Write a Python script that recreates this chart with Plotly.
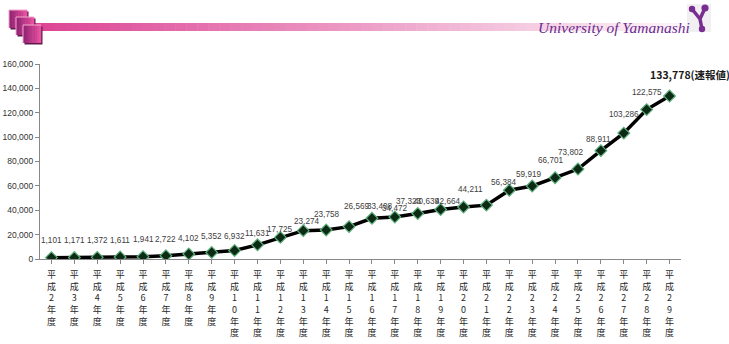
import plotly.graph_objects as go

# Fiscal years (Heisei era) and yearly counts
years = list(range(2, 30))
counts = [1101, 1171, 1372, 1611, 1941, 2722, 4102, 5352, 6932, 11631,
          17725, 23274, 23758, 26569, 33408, 34472, 37323, 40639, 42664, 44211,
          56384, 59919, 66701, 73802, 88911, 103286, 122575, 133778]
last_suffix = "(速報値)"
y_ticks = list(range(0, 160001, 20000))

# pixel offsets (dx, dy) of each value label from its marker
label_offsets = [(0, -17), (0, -17), (0, -17), (0, -17), (0, -17), (0, -16), (0, -16),
                 (0, -16), (0, -14), (0, -11), (-1, -8), (3, -9), (0, -16), (7, -20),
                 (8, -12), (0, -8), (-9, -12), (-14, -8), (-16, -6), (-16, -16),
                 (-6, -8), (-4, -11), (-5, -17), (-7, -17), (-2, -11), (0, -19),
                 (0, -17), (-22, -21)]

W, H = 729, 344
ML, MR, MT, MB = 40, 48, 64, 85
PW, PH = W - ML - MR, H - MT - MB


def px(x):
    return (x - ML) / PW


def py(y):
    return (H - MB - y) / PH


def tick_label(n):
    chars = ["平", "成"] + list(str(n)) + ["年", "度"]
    return "<br>".join(chars)


xs = list(range(len(years)))
fig = go.Figure()
fig.add_trace(go.Scatter(
    x=xs, y=counts, mode="lines+markers",
    line=dict(color="#000000", width=3.5),
    marker=dict(symbol="diamond", size=9, color="#0c2a14",
                line=dict(color="#5fae7c", width=1.2)),
    hoverinfo="skip", showlegend=False,
))

annotations = []
for i, (v, (dx, dy)) in enumerate(zip(counts, label_offsets)):
    last = i == len(counts) - 1
    txt = f"{v:,}" + (last_suffix if last else "")
    annotations.append(dict(
        x=i, y=v, xref="x", yref="y", text=("<b>%s</b>" % txt) if last else txt,
        showarrow=False, xshift=dx, yshift=-dy,
        xanchor="left" if last else "center", yanchor="middle",
        font=dict(size=10.5 if last else 8.2, color="#1a1a1a" if last else "#404040",
                  family="Noto Sans CJK JP" if last else "Liberation Sans"),
    ))

# header title
annotations.append(dict(
    x=px(692), y=py(27), xref="paper", yref="paper", showarrow=False,
    text="<i>University of Yamanashi</i>", xanchor="right", yanchor="middle",
    font=dict(size=15.5, color="#6b2c91", family="Liberation Serif"),
))

shapes = []
# header gradient bar
x0, x1, n = 33, 690, 60
c0, c1 = (220, 68, 148), (253, 246, 250)
for k in range(n):
    t = k / (n - 1)
    col = tuple(round(c0[j] + (c1[j] - c0[j]) * t) for j in range(3))
    a = x0 + (x1 - x0) * k / n
    b = x0 + (x1 - x0) * (k + 1) / n + 0.5
    shapes.append(dict(type="rect", xref="paper", yref="paper",
                       x0=px(a), x1=px(b), y0=py(31), y1=py(23),
                       fillcolor="rgb(%d,%d,%d)" % col, line=dict(width=0), layer="above"))

# stacked squares
for (sx, sy) in [(9, 10), (16, 17), (23, 25)]:
    size = 18
    shapes.append(dict(type="rect", xref="paper", yref="paper",
                       x0=px(sx + 1.5), x1=px(sx + size + 1.5), y0=py(sy + size + 1.5), y1=py(sy + 1.5),
                       fillcolor="#5c1a4a", line=dict(width=0), layer="above"))
    strips = 8
    for k in range(strips):
        t = k / (strips - 1)
        col = (round(150 + (232 - 150) * t), round(38 + (82 - 38) * t), round(118 + (160 - 118) * t))
        shapes.append(dict(type="rect", xref="paper", yref="paper",
                           x0=px(sx + size * k / strips), x1=px(sx + size * (k + 1) / strips + 0.3),
                           y0=py(sy + size), y1=py(sy),
                           fillcolor="rgb(%d,%d,%d)" % col, line=dict(width=0), layer="above"))
    shapes.append(dict(type="path", xref="paper", yref="paper",
                       path="M %f,%f L %f,%f L %f,%f" % (px(sx), py(sy + size), px(sx), py(sy),
                                                         px(sx + size), py(sy)),
                       line=dict(color="#f4a6cc", width=1), layer="above"))

# logo
shapes.append(dict(type="rect", xref="paper", yref="paper", x0=px(687), x1=px(711),
                   y0=py(32), y1=py(4), fillcolor="#f1eff2", line=dict(width=0), layer="above"))
for (a, b, c, d) in [(692, 9, 700, 19), (705, 8, 700, 19), (700, 19, 702, 29)]:
    shapes.append(dict(type="line", xref="paper", yref="paper", x0=px(a), y0=py(b),
                       x1=px(c), y1=py(d), line=dict(color="#7a2d90", width=3.5), layer="above"))
for (cx, cy, r) in [(692, 9, 3.2), (705, 8, 3.6), (702, 29, 3.2)]:
    shapes.append(dict(type="circle", xref="paper", yref="paper", x0=px(cx - r), x1=px(cx + r),
                       y0=py(cy + r), y1=py(cy - r), fillcolor="#7a2d90",
                       line=dict(width=0), layer="above"))

fig.update_layout(
    width=W, height=H, margin=dict(l=ML, r=MR, t=MT, b=MB, autoexpand=False),
    paper_bgcolor="white", plot_bgcolor="white",
    annotations=annotations, shapes=shapes,
    xaxis=dict(range=[-0.5, len(years) - 0.5], tickmode="array", tickvals=xs,
               ticktext=[tick_label(n) for n in years], tickson="boundaries",
               ticks="outside", ticklen=4, tickcolor="#888888", ticklabelstandoff=3,
               showline=True, linecolor="#888888", linewidth=1, showgrid=False, zeroline=False,
               tickfont=dict(size=9, color="#2a2a2a", family="Noto Sans CJK JP"),
               tickangle=0),
    yaxis=dict(range=[0, 160000], tickmode="array", tickvals=y_ticks,
               ticktext=[f"{v:,}" for v in y_ticks],
               ticks="outside", ticklen=4, tickcolor="#888888",
               showline=True, linecolor="#888888", linewidth=1, showgrid=False, zeroline=False,
               tickfont=dict(size=8.5, color="#333333", family="Liberation Sans")),
)

fig.write_html("out.html")
